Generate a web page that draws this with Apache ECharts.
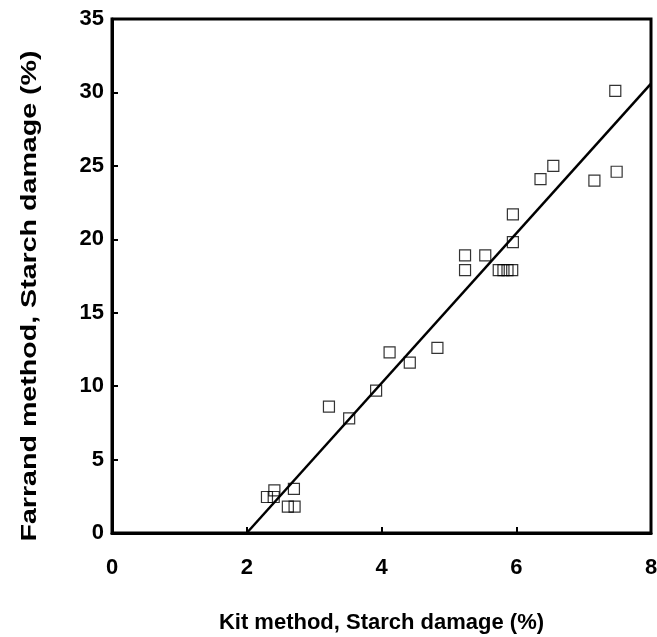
<!DOCTYPE html>
<html>
<head>
<meta charset="utf-8">
<script src="https://cdn.jsdelivr.net/npm/echarts@6/dist/echarts.min.js"></script>
<style>
html,body{margin:0;padding:0;background:#fff;}
#chart{width:657px;height:637px;}
</style>
</head>
<body>
<div id="chart"></div>
<script>
// Kit method (%) values
const kitValues = [2.30, 2.40, 2.41, 2.70, 2.61, 2.71, 3.22, 3.52, 3.92, 4.12, 4.42, 4.83,
                   5.24, 5.24, 5.54, 5.74, 5.81, 5.87, 5.94, 5.95, 5.95, 6.36, 6.55, 7.16, 7.47, 7.49];
// Farrand method (%) values
const farrandValues = [2.45, 2.45, 2.9, 3.0, 1.8, 1.8, 8.6, 7.8, 9.7, 12.3, 11.6, 12.6,
                       18.9, 17.9, 18.9, 17.9, 17.9, 17.9, 17.9, 19.8, 21.7, 24.1, 25.0, 24.0, 30.1, 24.6];
// Regression line end points
const fitX = [2.0, 8.0];
const fitY = [0.0, 30.6];
const xTicks = [0, 2, 4, 6, 8];
const yTicks = [0, 5, 10, 15, 20, 25, 30, 35];
const xTitle = 'Kit method, Starch damage (%)';
const yTitle = 'Farrand method, Starch damage (%)';

const points = kitValues.map((x, i) => [x, farrandValues[i]]);
const linePts = fitX.map((x, i) => [x, fitY[i]]);

const font = 'Liberation Sans, Arial, sans-serif';
const chart = echarts.init(document.getElementById('chart'));
chart.setOption({
  animation: false,
  backgroundColor: '#fff',
  grid: { left: 112, right: 6, top: 19, bottom: 104, containLabel: false, outerBoundsMode: 'none',
          show: true, borderColor: '#000', borderWidth: 3, backgroundColor: 'transparent' },
  xAxis: {
    type: 'value', min: xTicks[0], max: xTicks[xTicks.length - 1], interval: 2,
    axisLine: { show: true, lineStyle: { color: '#000', width: 3 } },
    axisTick: { show: true, inside: true, length: 6, lineStyle: { color: '#000', width: 2 } },
    splitLine: { show: false },
    axisLabel: { color: '#000', fontFamily: font, fontWeight: 'bold', fontSize: 22, margin: 24 },
    name: xTitle, nameLocation: 'middle', nameGap: 79,
    nameTextStyle: { color: '#000', fontFamily: font, fontWeight: 'bold', fontSize: 22 }
  },
  yAxis: {
    type: 'value', min: yTicks[0], max: yTicks[yTicks.length - 1], interval: 5,
    axisLine: { show: true, lineStyle: { color: '#000', width: 3 } },
    axisTick: { show: true, inside: true, length: 6, lineStyle: { color: '#000', width: 2 } },
    splitLine: { show: false },
    axisLabel: { color: '#000', fontFamily: font, fontWeight: 'bold', fontSize: 22, margin: 8 }
  },
  graphic: [{
    type: 'text', x: 30, y: 296, rotation: Math.PI / 2, scaleX: 1.3,
    style: { text: yTitle, fill: '#000', font: 'bold 22px Liberation Sans, Arial, sans-serif', align: 'center', verticalAlign: 'middle' }
  }],
  series: [
    {
      type: 'line', data: linePts, symbol: 'none',
      lineStyle: { color: '#000', width: 2.5 }, z: 2
    },
    {
      type: 'scatter', data: points, symbol: 'rect', symbolSize: 11,
      itemStyle: { color: 'rgba(255,255,255,0)', borderColor: '#000', borderWidth: 1.2 }, z: 3
    }
  ]
});
</script>
</body>
</html>
